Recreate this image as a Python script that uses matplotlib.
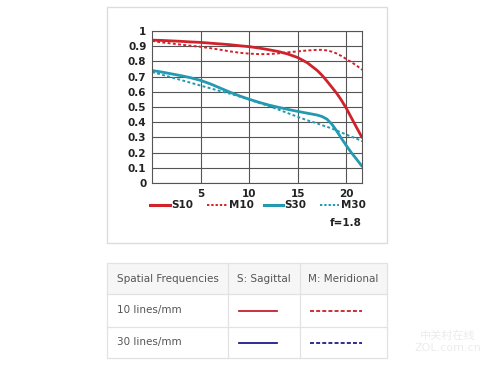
import numpy as np
import matplotlib
matplotlib.use("Agg")
import matplotlib.pyplot as plt
from matplotlib.patches import Rectangle
from matplotlib import font_manager

# ---- data ----
freq = [0, 1, 2, 3, 4, 5, 6, 7, 8, 9, 10, 11, 12, 13, 14, 15, 16, 17, 17.5, 18, 18.5,
        19, 19.5, 20, 20.5, 21, 21.6]
s10 = [0.94, 0.938, 0.935, 0.932, 0.928, 0.925, 0.92, 0.915, 0.91, 0.903, 0.897, 0.888, 0.877,
       0.865, 0.848, 0.825, 0.79, 0.74, 0.708, 0.67, 0.63, 0.59, 0.543, 0.49, 0.43, 0.37, 0.30]
m10 = [0.935, 0.925, 0.918, 0.91, 0.903, 0.896, 0.887, 0.877, 0.866, 0.857, 0.851, 0.848, 0.848,
       0.853, 0.86, 0.866, 0.872, 0.876, 0.876, 0.872, 0.864, 0.852, 0.835, 0.815, 0.795, 0.775, 0.745]
s30 = [0.74, 0.73, 0.718, 0.706, 0.692, 0.675, 0.652, 0.625, 0.598, 0.573, 0.551, 0.531, 0.513,
       0.498, 0.484, 0.471, 0.459, 0.447, 0.437, 0.42, 0.387, 0.342, 0.292, 0.245, 0.2, 0.16, 0.11]
m30 = [0.73, 0.713, 0.695, 0.677, 0.659, 0.641, 0.623, 0.605, 0.588, 0.569, 0.548, 0.527, 0.506,
       0.483, 0.459, 0.435, 0.412, 0.392, 0.38, 0.37, 0.358, 0.345, 0.332, 0.318, 0.305, 0.293, 0.275]
xticks = [5, 10, 15, 20]
yticks = [0, 0.1, 0.2, 0.3, 0.4, 0.5, 0.6, 0.7, 0.8, 0.9, 1]
ytick_labels = ["0", "0.1", "0.2", "0.3", "0.4", "0.5", "0.6", "0.7", "0.8", "0.9", "1"]
series_names = ["S10", "M10", "S30", "M30"]
aperture = "f=1.8"
table_header = ["Spatial Frequencies", "S: Sagittal", "M: Meridional"]
table_rows = ["10 lines/mm", "30 lines/mm"]

RED = "#d0222b"
TEAL = "#2399b2"
TBL_RED = "#c8202a"
TBL_BLUE = "#1c1c8a"

# condensed font for chart labels if available
avail = {f.name for f in font_manager.fontManager.ttflist}
CHART_FONT = ["Liberation Sans Narrow"] if "Liberation Sans Narrow" in avail else ["DejaVu Sans"]
CFS = 8.6 if CHART_FONT[0] == "Liberation Sans Narrow" else 7.5

W, H = 500, 375
fig = plt.figure(figsize=(W / 100, H / 100), dpi=100)
fig.patch.set_facecolor("white")

ov = fig.add_axes([0, 0, 1, 1])
ov.set_xlim(0, W)
ov.set_ylim(H, 0)
ov.axis("off")

# card
ov.add_patch(Rectangle((106.5, 6.5), 280, 236.5, fill=False, ec="#dcdcdc", lw=1.0))

# chart axes
L, R, T, B = 152, 362, 31, 183
ax = fig.add_axes([L / W, 1 - B / H, (R - L) / W, (B - T) / H])
ax.set_xlim(0, 21.6)
ax.set_ylim(0, 1)
ax.set_xticks(xticks)
ax.set_yticks(yticks)
ax.set_yticklabels(ytick_labels)
ax.grid(True, color="#555555", lw=0.8)
ax.set_axisbelow(True)
for sp in ax.spines.values():
    sp.set_color("#555555")
    sp.set_linewidth(0.8)
ax.tick_params(length=0, pad=4, labelsize=CFS, colors="#222222")
for lab in ax.get_xticklabels() + ax.get_yticklabels():
    lab.set_fontweight("bold")
    lab.set_family(CHART_FONT)

ax.plot(freq, m10, color=RED, lw=1.4, ls=(0, (1.5, 1.2)))
ax.plot(freq, m30, color=TEAL, lw=1.4, ls=(0, (1.5, 1.2)))
ax.plot(freq, s10, color=RED, lw=2.0, solid_capstyle="round")
ax.plot(freq, s30, color=TEAL, lw=2.0, solid_capstyle="round")

# legend (manual)
leg_y = 205
leg_items = [(150, 170, RED, "-", 2.2, series_names[0]),
             (207, 227, RED, ":", 1.4, series_names[1]),
             (264, 283, TEAL, "-", 2.2, series_names[2]),
             (320, 339, TEAL, ":", 1.4, series_names[3])]
for x0, x1, c, ls, lw, name in leg_items:
    if ls == ":":
        ov.plot([x0, x1], [leg_y, leg_y], color=c, lw=lw, ls=(0, (1.2, 1.0)))
    else:
        ov.plot([x0, x1], [leg_y, leg_y], color=c, lw=lw)
    ov.text(x1 + 1.5, leg_y, name, ha="left", va="center", fontsize=CFS,
            fontweight="bold", color="#222222", family=CHART_FONT)
ov.text(362, 223, aperture, ha="right", va="center", fontsize=CFS,
        fontweight="bold", color="#222222", family=CHART_FONT)

# table
tx0, tx1 = 106.5, 386.5
ty = [263, 294, 327, 358]
cx = [106.5, 228, 300, 386.5]
ov.add_patch(Rectangle((tx0, ty[0]), tx1 - tx0, ty[1] - ty[0], fc="#f6f6f6", ec="none"))
ov.add_patch(Rectangle((tx0, ty[0]), tx1 - tx0, ty[3] - ty[0], fill=False, ec="#e2e2e2", lw=0.9))
for yy in ty[1:3]:
    ov.plot([tx0, tx1], [yy, yy], color="#e2e2e2", lw=0.9)
for xx in cx[1:3]:
    ov.plot([xx, xx], [ty[0], ty[3]], color="#e2e2e2", lw=0.9)

txtc = "#555555"
TFS = 7.5
ov.text(117, (ty[0] + ty[1]) / 2, table_header[0], ha="left", va="center", fontsize=TFS, color=txtc)
ov.text(cx[1] + 9, (ty[0] + ty[1]) / 2, table_header[1], ha="left", va="center", fontsize=TFS, color=txtc)
ov.text(cx[2] + 8, (ty[0] + ty[1]) / 2, table_header[2], ha="left", va="center", fontsize=TFS, color=txtc)
for i, name in enumerate(table_rows):
    yc = (ty[i + 1] + ty[i + 2]) / 2
    ov.text(117, yc, name, ha="left", va="center", fontsize=TFS, color=txtc)
    c = TBL_RED if i == 0 else TBL_BLUE
    ov.plot([239, 277], [yc, yc], color=c, lw=1.3)
    ov.plot([310, 362], [yc, yc], color=c, lw=1.3, ls=(0, (2.2, 1.2)))

# faint watermark
ov.text(448, 336, "中关村在线", ha="center", va="center", fontsize=8, color="#ececec",
        family=["Noto Sans CJK SC", "DejaVu Sans"])
ov.text(448, 348, "ZOL.com.cn", ha="center", va="center", fontsize=8, color="#ececec")

fig.savefig("out.png", dpi=100, facecolor="white")
